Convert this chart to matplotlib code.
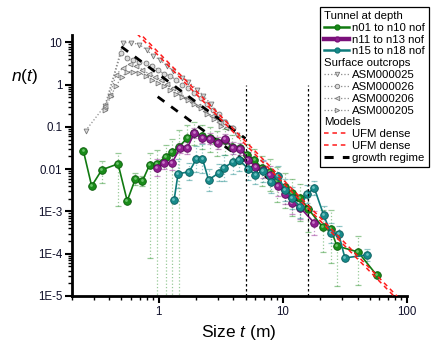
import matplotlib
matplotlib.use("Agg")
import matplotlib.pyplot as plt
from matplotlib.lines import Line2D
from matplotlib.ticker import FixedLocator, LogLocator, NullFormatter
from matplotlib.transforms import offset_copy
import numpy as np

plt.rcParams['font.family'] = ['Liberation Sans', 'DejaVu Sans']
plt.rcParams['mathtext.fontset'] = 'custom'
plt.rcParams['mathtext.it'] = 'Liberation Sans:italic'
plt.rcParams['mathtext.rm'] = 'Liberation Sans'

# tunnel data (size t in m, density n(t)) with error bar limits
green_t = [0.247, 0.288, 0.348, 0.470, 0.557, 0.648, 0.739, 0.844, 0.963, 1.14, 1.28, 1.46,
           1.70, 1.94, 2.21, 2.57, 2.93, 3.41, 3.89, 4.53, 5.16, 5.89, 6.73, 7.82, 8.93,
           10.4, 11.9, 13.8, 16.0, 20.9, 24.3, 27.2, 40.4, 56.8]
green_n = [0.0273, 0.0040, 0.0097, 0.0134, 0.00178, 0.0059, 0.0053, 0.0127, 0.0134, 0.0197,
           0.0258, 0.034, 0.0555, 0.073, 0.062, 0.0555, 0.0446, 0.050, 0.034, 0.032, 0.022,
           0.0167, 0.0108, 0.0087, 0.0053, 0.0038, 0.0028, 0.0021, 0.00115, 0.00043, 0.00039,
           0.000153, 0.00011, 0.0000315]
green_lo = [0.0273, 0.0040, 0.00476, 0.00136, 0.00178, 0.0042, 0.0040, 0.00008, 1e-7, 1e-7,
            1e-7, 1e-7, 0.028, 0.038, 0.03, 0.025, 0.02, 0.022, 0.015, 0.013, 0.009, 0.007,
            0.004, 0.0030, 0.0017, 0.0012, 0.0008, 0.0006, 0.00033, 0.00011, 0.00006,
            0.000017, 0.000018, 0.0000315]
green_hi = [0.0273, 0.0040, 0.0158, 0.0245, 0.00178, 0.0082, 0.0070, 0.0245, 0.0288, 0.038,
            0.0526, 0.086, 0.11, 0.13, 0.11, 0.10, 0.08, 0.09, 0.065, 0.06, 0.04, 0.03, 0.02,
            0.017, 0.011, 0.008, 0.006, 0.0045, 0.0026, 0.0011, 0.0011, 0.00035, 0.00026,
            0.0000315]

purple_t = [0.963, 1.10, 1.28, 1.49, 1.70, 1.94, 2.25, 2.57, 2.99, 3.41, 3.97, 4.53, 5.26,
            6.01, 6.86, 7.82, 9.10, 10.4, 11.9, 13.8, 17.9]
purple_n = [0.0108, 0.0142, 0.0142, 0.0322, 0.0322, 0.073, 0.0555, 0.0525, 0.0422, 0.0525,
            0.0322, 0.0304, 0.0167, 0.0114, 0.0097, 0.0074, 0.0040, 0.0026, 0.0016, 0.00122,
            0.00054]
purple_err = [1.6, 1.4, 1.5, 1.3, 1.4, 1.3, 1.3, 1.35, 1.4, 1.3, 1.4, 1.4, 1.5, 1.5, 1.6,
              1.6, 1.7, 1.7, 1.8, 1.8, 1.9]

teal_t = [1.33, 1.43, 1.76, 2.01, 2.25, 2.52, 3.05, 3.35, 3.97, 4.44, 5.26, 6.01, 6.86, 7.97,
          9.10, 10.4, 11.9, 13.8, 15.7, 17.9, 21.3, 24.3, 28.2, 31.6, 47.9]
teal_n = [0.00188, 0.0078, 0.0087, 0.0176, 0.0176, 0.0056, 0.0082, 0.0108, 0.015, 0.0167,
          0.0102, 0.0074, 0.0092, 0.0050, 0.0070, 0.00325, 0.0021, 0.00129, 0.0026, 0.0036,
          0.00083, 0.00031, 0.00029, 0.0000795, 0.000094]
teal_err = [1.0, 2.2, 1.6, 2.0, 2.2, 1.8, 1.6, 2.0, 1.9, 1.8, 1.8, 1.7, 1.8, 1.8, 1.7, 1.8,
            1.8, 1.8, 1.6, 1.5, 1.6, 1.7, 1.6, 1.0, 1.4]

# surface outcrops
asm025_t = [0.257, 0.368, 0.517, 0.601, 0.699, 0.797, 0.893, 1.02, 1.16, 1.30, 1.54, 1.73,
            2.05, 2.29, 2.62, 2.99, 3.35, 3.82, 4.28]
asm025_n = [0.081, 0.318, 9.89, 9.89, 8.87, 6.75, 4.87, 3.91, 2.82, 2.15, 1.47, 1.18, 0.762,
            0.549, 0.355, 0.184, 0.133, 0.0957, 0.0653]
asm026_t = [0.368, 0.497, 0.557, 0.624, 0.699, 0.782, 0.877, 0.981, 1.10, 1.23, 1.38, 1.54,
            1.73, 1.94, 2.17, 2.43, 2.72, 3.05, 3.41, 3.97]
asm026_n = [0.285, 5.73, 4.36, 3.91, 3.51, 3.32, 2.82, 2.27, 1.82, 1.63, 1.31, 1.0, 0.849,
            0.646, 0.492, 0.355, 0.256, 0.206, 0.133, 0.0957]
asm206_t = [0.368, 0.404, 0.453, 0.517, 0.589, 0.660, 0.739, 0.828, 0.927, 1.04, 1.16, 1.30,
            1.46, 1.66, 1.86, 2.09, 2.38, 2.67, 3.05, 3.48]
asm206_n = [0.318, 0.58, 1.73, 2.53, 3.15, 2.82, 2.27, 1.82, 1.55, 1.31, 1.06, 0.849, 0.646,
            0.492, 0.396, 0.318, 0.242, 0.184, 0.133, 0.0957]
asm205_t = [0.368, 0.412, 0.453, 0.507, 0.557, 0.624, 0.699, 0.782, 0.877, 0.981, 1.10, 1.23,
            1.38, 1.54, 1.73, 1.94, 2.17, 2.47, 2.77, 3.16]
asm205_n = [0.256, 0.549, 0.947, 1.55, 2.03, 2.03, 1.92, 1.63, 1.31, 1.11, 0.947, 0.762,
            0.612, 0.52, 0.441, 0.355, 0.285, 0.206, 0.156, 0.107]

# model lines (end points)
ufm1_t = [0.6, 80]
ufm1_n = [22.2, 9.4e-6]
ufm2_t = [0.6, 85]
ufm2_n = [26.4, 9.3e-6]
growth1_t = [0.5, 5.0]
growth1_n = [7.9, 0.053]
growth2_t = [0.98, 19.0]
growth2_n = [0.52, 0.00084]
lc_t = [5.0, 16.0]

fig = plt.figure(figsize=(4.41, 3.43), dpi=100)
ax = fig.add_axes([72/441, 47/343, 335/441, 261/343])
ax.set_xscale('log')
ax.set_yscale('log')

grey_sets = [(asm025_t, asm025_n, 'v'), (asm026_t, asm026_n, 'o'),
             (asm206_t, asm206_n, '<'), (asm205_t, asm205_n, '>')]
for t, n, m in grey_sets:
    ax.plot(t, n, ls=':', color='#8c8c8c', lw=0.9, marker=m, ms=3.5, mfc='#dcdcdc',
            mec='#777777', mew=0.6, zorder=2)


def draw_err(t, n, lo, hi, color):
    n = np.array(n)
    eb = ax.errorbar(t, n, yerr=[n - np.array(lo), np.array(hi) - n], fmt='none',
                     ecolor=color, elinewidth=0.9, capsize=2.5, capthick=0.9, alpha=0.45,
                     zorder=2.5)
    eb[2][0].set_linestyle(':')


draw_err(green_t, green_n, green_lo, green_hi, '#1c8a1c')
pn, pe = np.array(purple_n), np.array(purple_err)
draw_err(purple_t, purple_n, pn / pe, pn * pe, '#8a1a8a')
tn, te = np.array(teal_n), np.array(teal_err)
draw_err(teal_t, teal_n, tn / te, tn * te, '#138585')

ax.plot(growth1_t, growth1_n, color='black', lw=2, dashes=(3, 3), zorder=2.8)
ax.plot(growth2_t, growth2_n, color='black', lw=2, dashes=(3, 3), zorder=2.8)

# sphere-like markers: dark ball plus a small highlight
hl = offset_copy(ax.transData, fig=fig, x=-0.8, y=0.8, units='dots')
series = [(green_t, green_n, '#117a11', '#1a8c1a', '#0b5c0b', '#6cc46c', 3.0),
          (purple_t, purple_n, '#7a107a', '#8e1f8e', '#5c085c', '#c77ac7', 3.1),
          (teal_t, teal_n, '#0d7a7a', '#178a8a', '#085c5c', '#6cc0c0', 3.2)]
for t, n, lc, fc, ec, hc, z in series:
    ax.plot(t, n, '-o', color=lc, lw=1.2, ms=5.5, mfc=fc, mec=ec, mew=0.6, zorder=z)
    ax.plot(t, n, 'o', ls='none', ms=2, mfc=hc, mec='none', transform=hl, zorder=z + 0.05)

ax.plot(ufm1_t, ufm1_n, color='#ff1a1a', lw=1.1, dashes=(3, 2.5), zorder=5)
ax.plot(ufm2_t, ufm2_n, color='#ff1a1a', lw=1.1, dashes=(3, 2.5), zorder=5)

ax.vlines(lc_t, 1e-5, 1, colors='black', linestyles=(0, (2, 2)), lw=0.9, zorder=4)

ax.set_xlim(0.2, 100)
ax.set_ylim(1e-5, 15)
for s in ['top', 'right']:
    ax.spines[s].set_visible(False)
for s in ['left', 'bottom']:
    ax.spines[s].set_linewidth(2)

ax.xaxis.set_major_locator(FixedLocator([1, 10, 100]))
ax.set_xticklabels(['1', '10', '100'])
ax.yaxis.set_major_locator(FixedLocator([1e-5, 1e-4, 1e-3, 0.01, 0.1, 1, 10]))
ax.set_yticklabels(['1E-5', '1E-4', '1E-3', '0.01', '0.1', '1', '10'])
ax.xaxis.set_minor_locator(LogLocator(base=10, subs=np.arange(2, 10)))
ax.yaxis.set_minor_locator(LogLocator(base=10, subs=np.arange(2, 10)))
ax.xaxis.set_minor_formatter(NullFormatter())
ax.yaxis.set_minor_formatter(NullFormatter())
ax.tick_params(which='major', direction='out', length=5, width=1.5, labelsize=8.3, pad=2,
               labelcolor='#10102a')
ax.tick_params(which='minor', direction='out', length=3, width=1)

fig.text(25/441, 1 - 77/343, r'$n$($t$)', fontsize=12.5, ha='center', va='center')
fig.text(239/441, 1 - 332/343, r'Size $t$ (m)', fontsize=12.5, ha='center', va='center')

headers = ['Tunnel at depth', 'Surface outcrops', 'Models']


def hdr():
    return Line2D([], [], ls='none')


handles = [hdr(),
           Line2D([], [], color='#117a11', lw=1.8, marker='o', ms=3.5, mfc='#1a8c1a'),
           Line2D([], [], color='#7a107a', lw=3.2, marker='o', ms=3.5, mfc='#8e1f8e'),
           Line2D([], [], color='#0d7a7a', lw=1.8, marker='o', ms=3.5, mfc='#178a8a'),
           hdr()]
for t, n, m in grey_sets:
    handles.append(Line2D([], [], ls=':', color='#8c8c8c', lw=0.9, marker=m, ms=3.2,
                          mfc='#dcdcdc', mec='#777777', mew=0.6))
handles += [hdr(),
            Line2D([], [], color='#ff1a1a', lw=1.1, dashes=(3, 2.5)),
            Line2D([], [], color='#ff1a1a', lw=1.1, dashes=(3, 2.5)),
            Line2D([], [], color='black', lw=2.2, dashes=(3, 3))]
labels = ['Tunnel at depth', 'n01 to n10 nof', 'n11 to n13 nof', 'n15 to n18 nof',
          'Surface outcrops', 'ASM000025', 'ASM000026', 'ASM000206', 'ASM000205',
          'Models', 'UFM dense', 'UFM dense', 'growth regime']

leg = ax.legend(handles, labels, loc='upper right', bbox_to_anchor=(429/441, 1 - 7/343),
                bbox_transform=fig.transFigure, frameon=True, fancybox=False,
                edgecolor='black', framealpha=1, fontsize=8.2, handlelength=2.2,
                handletextpad=0.25, labelspacing=0.16, borderpad=0.35, borderaxespad=0)
leg.get_frame().set_linewidth(0.9)
leg.set_zorder(10)
for col in leg._legend_handle_box.get_children():
    for row in col.get_children():
        da, txt = row.get_children()
        if txt.get_text() in headers:
            da.width = 0
            row.sep = 0

fig.savefig('out.png', dpi=100)
